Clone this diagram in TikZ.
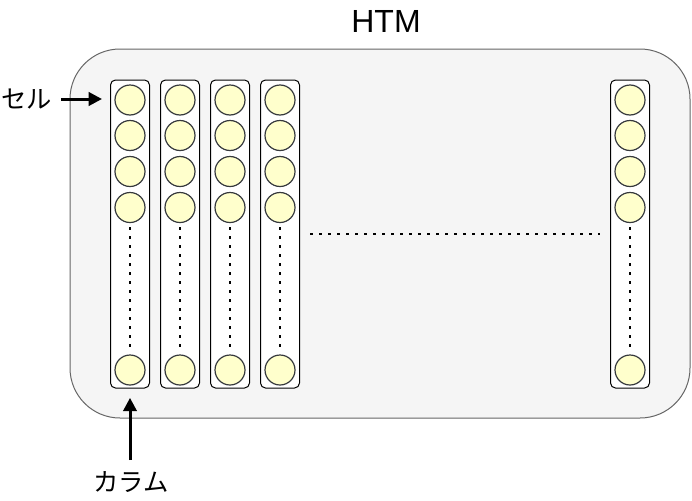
\documentclass[tikz,border=0pt]{standalone}
\usepackage{fontspec}
\setmainfont{Liberation Sans}
\newfontfamily\jpfont{Noto Sans CJK JP}
\usetikzlibrary{arrows.meta}
\definecolor{outerfill}{HTML}{F5F5F5}
\definecolor{outerline}{HTML}{666666}
\definecolor{cellfill}{HTML}{FFFFCC}
\definecolor{cellline}{HTML}{36393D}
\begin{document}
\begin{tikzpicture}[x=0.75pt,y=-0.75pt,
  outerbox/.style={draw=outerline,fill=outerfill,rounded corners=37.5pt,line width=0.75pt,minimum width=465pt,minimum height=276.75pt,inner sep=0pt},
  colbox/.style={draw=black,fill=white,rounded corners=3.75pt,line width=0.75pt,minimum width=29.25pt,minimum height=231pt,inner sep=0pt},
  cell/.style={circle,draw=cellline,fill=cellfill,line width=0.9pt,minimum size=22.5pt,inner sep=0pt},
  dots/.style={line width=2pt,dash pattern=on 2pt off 4.75pt},
  pointer/.style={line width=2.25pt,-{Triangle[length=10pt,width=10pt]}},
  lbl/.style={font=\jpfont\fontsize{19pt}{22pt}\selectfont,inner sep=0pt}
]
\useasboundingbox (0,0) rectangle (692,500);
\node[outerbox] (outer) at (380,233.5) {};
\node[font=\fontsize{24pt}{28pt}\selectfont,inner sep=0pt] (title) at (386,21) {HTM};
\foreach \i/\x in {1/130,2/180,3/230,4/280,5/630}{
  \node[colbox] (col\i) at (\x,234) {};
  \node[cell] (c\i a) at (\x,100) {};
  \node[cell] (c\i b) at (\x,135.5) {};
  \node[cell] (c\i c) at (\x,171.5) {};
  \node[cell] (c\i d) at (\x,207.5) {};
  \node[cell] (c\i e) at (\x,370) {};
  \draw[dots,shorten <=3pt,shorten >=3pt] (c\i d) -- (c\i e);
}
\draw[dots,shorten <=7.5pt,shorten >=7.5pt] (col4.east |- 0,234) -- (col5.west |- 0,234);
\node[lbl] (sel) at (27,99) {セル};
\coordinate (selstart) at (61,99);
\draw[pointer,shorten >=6pt] (selstart) -- (col1.west |- selstart);
\node[lbl] (col) at (131,482) {カラム};
\coordinate (colstart) at (130,460);
\draw[pointer,shorten >=7pt] (colstart) -- (col1.south);
\end{tikzpicture}
\end{document}
